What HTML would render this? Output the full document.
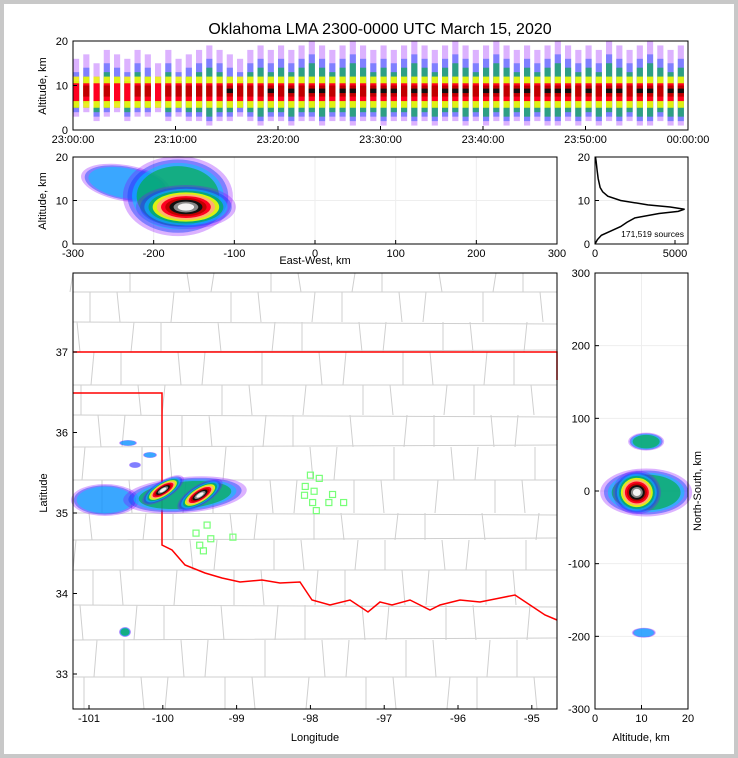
<!DOCTYPE html>
<html><head><meta charset="utf-8"><style>
body{margin:0;background:#c8c8c8}
#wrap{position:absolute;left:4px;top:4px;width:730px;height:750px;background:#fff}
svg{position:absolute;left:0;top:0}
text{font-family:"Liberation Sans",sans-serif;fill:#000}
</style></head><body>
<div id="wrap"></div>
<svg id="s" width="738" height="758">
<text x="380" y="34" font-size="16" text-anchor="middle">Oklahoma LMA 2300-0000 UTC March 15, 2020</text>
<g id="g"></g>
</svg>
<script>
// ---------- data ----------
const timeTicks=["23:00:00","23:10:00","23:20:00","23:30:00","23:40:00","23:50:00","00:00:00"];
const binTop=[14,15,13,16,15,14,16,15,13,16,14,15,16,17,16,15,14,16,17,16,17,16,17,18,17,16,17,18,17,16,17,16,17,18,17,16,17,18,17,16,17,18,17,16,17,16,17,18,17,16,17,16,18,17,16,17,18,17,16,17];
const binBot=[4,5,3,4,5,3,4,4,5,3,4,3,3,2,3,3,4,3,2,3,3,2,3,3,2,3,3,2,3,3,2,3,3,2,3,2,3,3,2,3,2,3,2,3,2,3,2,2,3,2,3,2,3,2,3,2,2,3,2,2];
const binCore=[1,2,1,2,1,1,2,2,1,2,2,2,2,2,2,3,2,2,2,3,2,3,2,3,3,2,3,3,2,3,3,3,2,3,3,2,3,3,3,2,3,3,2,3,3,2,3,3,3,2,3,2,3,3,2,3,3,2,3,3];
const histAlt=[0,1,2,3,4,5,6,7,7.5,8,8.5,9,10,11,12,13,15,17,19,20];
const histCnt=[0,150,400,1000,1600,2000,2500,4000,5200,5600,4700,3300,1600,800,480,320,200,130,70,30];
const ewTicks=[-300,-200,-100,0,100,200,300];
const lonTicks=[-101,-100,-99,-98,-97,-96,-95];
const latTicks=[33,34,35,36,37];
const nsTicks=[-300,-200,-100,0,100,200,300];
const altTicks=[0,10,20];
const stLon=[-98.0,-97.88,-98.07,-97.95,-98.08,-97.7,-97.75,-97.97,-97.55,-97.92,-99.55,-99.4,-99.35,-99.05,-99.5,-99.45];
const stLat=[35.47,35.43,35.33,35.27,35.22,35.23,35.13,35.13,35.13,35.03,34.75,34.85,34.68,34.7,34.6,34.53];
const total="171,519 sources";

// ---------- axes ----------
const tx=t=>73+t/60*615, ty=a=>130-a*4.45;
const ex=e=>315+e*484/600, ey=a=>244-a*4.35;
const hx=c=>595+c*0.016;
const mx=l=>73+(l+101.217)*73.8, my=l=>352+(37-l)*80.5;
const rx=a=>595+a*4.65, ry=n=>491-n*436/600;
const NS='http://www.w3.org/2000/svg', G=document.getElementById('g');
function el(tag,attrs,parent){const e=document.createElementNS(NS,tag);for(const k in attrs)e.setAttribute(k,attrs[k]);(parent||G).appendChild(e);return e;}
function txt(x,y,s,size,anchor,rot){const t=el('text',{x:x,y:y,'font-size':size||11,'text-anchor':anchor||'middle'});if(rot)t.setAttribute('transform',`rotate(${rot} ${x} ${y})`);t.textContent=s;return t;}
const C={pu:'#8a00ff',bl:'#1040ff',cy:'#00c8ff',gr:'#00b040',yl:'#ffff00',or:'#ffb070',rd:'#ff0020',dr:'#c00000',bk:'#101010',gy:'#888',wh:'#f4f4f4'};
const OP={pu:0.3,bl:0.45,cy:0.55,gr:0.65,yl:0.85};

// ---------- top time-height ----------
const gTop=el('g',{});


for(let i=0;i<binTop.length;i++){
 const x=tx(i),w=615/60*0.6;
 const layers=[[binBot[i]-1,binTop[i]+2,'pu'],[binBot[i],binTop[i]-1,'bl'],[binBot[i]+1,binTop[i]-3,'gr'],[5,12,'yl'],[6.5,10.5,'rd']];
 if(binCore[i]>=2)layers.push([7.5,10,'dr']);
 if(binCore[i]>=3)layers.push([8.3,9.3,'bk']);
 layers.forEach(L=>{const r=el('rect',{x:x,y:ty(L[1]),width:w,height:ty(L[0])-ty(L[1]),fill:C[L[2]],'fill-opacity':OP[L[2]]||1},gTop);
 });
}
el('rect',{x:73,y:41,width:615,height:89,fill:'none',stroke:'#000','stroke-width':1});
timeTicks.forEach((s,i)=>{const x=tx(i*10);el('line',{x1:x,x2:x,y1:130,y2:126,stroke:'#000'});txt(x,143,s,11);});
altTicks.forEach(a=>{el('line',{x1:73,x2:77,y1:ty(a),y2:ty(a),stroke:'#000'});txt(68,ty(a)+4,a,11,'end');});
txt(46,86,'Altitude, km',11,'middle',-90);

// ---------- blob helper ----------
const ring=['pu','bl','cy','gr','yl','or','rd','dr','bk','gy','wh'];
function blob(cx,cy,rxx,ryy,rot,levels,parent,name){
 for(let k=0;k<levels;k++){const f=1-k/11*0.92;
  const e=el('ellipse',{cx:cx,cy:cy,rx:rxx*f,ry:ryy*f,fill:C[ring[k]],'fill-opacity':OP[ring[k]]||1,transform:`rotate(${rot} ${cx} ${cy})`},parent);
  }
}

// ---------- E-W vs altitude ----------
const gEw=el('g',{});
[-200,-100,0,100,200].forEach(e=>el('line',{x1:ex(e),x2:ex(e),y1:157,y2:244,stroke:'#eee'},gEw));
el('line',{x1:73,x2:557,y1:ey(10),y2:ey(10),stroke:'#eee'},gEw);
blob(ex(-235),ey(14),45,18,10,3,gEw,'ew-density-outer');
blob(ex(-170),ey(11),55,40,0,4,gEw,'ew-density-mid');
blob(ex(-160),ey(8.5),50,22,0,11,gEw,'ew-density-core');
el('rect',{x:73,y:157,width:484,height:87,fill:'none',stroke:'#000'});
ewTicks.forEach(e=>{el('line',{x1:ex(e),x2:ex(e),y1:244,y2:240,stroke:'#000'});txt(ex(e),257,e,11);});
altTicks.forEach(a=>{el('line',{x1:73,x2:77,y1:ey(a),y2:ey(a),stroke:'#000'});txt(68,ey(a)+4,a,11,'end');});
txt(46,201,'Altitude, km',11,'middle',-90);
txt(315,264,'East-West, km',11);

// ---------- histogram ----------
let d='';histAlt.forEach((a,i)=>{d+=(i?'L':'M')+hx(histCnt[i])+' '+ey(histAlt[i]);});
el('line',{x1:595,x2:688,y1:ey(10),y2:ey(10),stroke:'#eee'});
const hp=el('path',{d:d,fill:'none',stroke:'#000','stroke-width':1.5});

el('rect',{x:595,y:157,width:93,height:87,fill:'none',stroke:'#000'});
[0,5000].forEach(c=>{el('line',{x1:hx(c),x2:hx(c),y1:244,y2:240,stroke:'#000'});txt(hx(c),257,c,11);});
altTicks.forEach(a=>{el('line',{x1:595,x2:599,y1:ey(a),y2:ey(a),stroke:'#000'});txt(590,ey(a)+4,a,11,'end');});
txt(684,237,total,8.5,'end');

// ---------- map ----------
const gMap=el('g',{});

const cl='#cfcfcf';
let cd='';
const rows=[273,292,322,352,385,415,447,480,513,540,570,605,640,677,709];
rows.forEach((y,i)=>{if(i>0&&i<rows.length-1)cd+=`M73 ${y}L557 ${y+(i%3-1)*2}`;});
for(let r=0;r<rows.length-1;r++){
 for(let j=0;j<11;j++){const x=73+j*44+((r*17+j*13)%30);if(x>555)continue;cd+=`M${x} ${rows[r]}L${x+((r+j)%3-1)*3} ${rows[r+1]}`;}
}
el('path',{d:cd,stroke:cl,'stroke-width':1,fill:'none'},gMap);
const ok='M73 352L557 352L557 380M73 393L162 393L162 545L172 550L185 565L205 573L222 578L240 582L262 580L280 583L300 582L312 600L330 605L350 600L368 612L380 602L392 605L410 600L430 610L440 605L460 600L480 602L500 598L515 595L530 605L545 615L557 620';
el('path',{d:ok,stroke:'#f00','stroke-width':1.5,fill:'none'},gMap);
blob(105,500,34,16,0,3,gMap,'map-scatter-west');
blob(128,443,9,3,0,3,gMap,'map-cell-nw1');
blob(150,455,7,3,0,3,gMap,'map-cell-nw2');
blob(135,465,6,3,0,2,gMap,'map-cell-nw3');
blob(125,632,6,5,0,4,gMap,'map-cell-sw');
blob(185,495,62,18,-5,4,gMap,'map-storm-envelope');
blob(163,490,24,9,-32,11,gMap,'map-storm-core-west');
blob(200,495,26,10,-32,11,gMap,'map-storm-core-east');
stLon.forEach((l,i)=>{const r=el('rect',{x:mx(l)-3,y:my(stLat[i])-3,width:6,height:6,fill:'none',stroke:'#7f7','stroke-width':1.2},gMap);
 });
el('rect',{x:73,y:273,width:484,height:436,fill:'none',stroke:'#000'});
lonTicks.forEach(l=>{el('line',{x1:mx(l),x2:mx(l),y1:709,y2:705,stroke:'#000'});txt(mx(l),722,l,11);});
latTicks.forEach(l=>{el('line',{x1:73,x2:77,y1:my(l),y2:my(l),stroke:'#000'});txt(68,my(l)+4,l,11,'end');});
txt(47,493,'Latitude',11,'middle',-90);
txt(315,741,'Longitude',11);

// ---------- altitude vs N-S ----------
const gR=el('g',{});
[-200,-100,0,100,200].forEach(n=>el('line',{x1:595,x2:688,y1:ry(n),y2:ry(n),stroke:'#eee'},gR));
el('line',{x1:rx(10),x2:rx(10),y1:273,y2:709,stroke:'#eee'},gR);
blob(rx(11),ry(68),18,9,0,4,gR,'ns-cell-north');
blob(rx(10.5),ry(-195),12,5,0,3,gR,'ns-cell-south');
blob(rx(11),ry(-2),46,24,0,4,gR,'ns-density-outer');
blob(rx(9),ry(-2),24,22,0,11,gR,'ns-density-core');
el('rect',{x:595,y:273,width:93,height:436,fill:'none',stroke:'#000'});
nsTicks.forEach(n=>{el('line',{x1:595,x2:599,y1:ry(n),y2:ry(n),stroke:'#000'});txt(590,ry(n)+4,n,11,'end');});
[0,10,20].forEach(a=>{el('line',{x1:rx(a),x2:rx(a),y1:709,y2:705,stroke:'#000'});txt(rx(a),722,a,11);});
txt(641,741,'Altitude, km',11);
txt(701,491,'North-South, km',11,'middle',-90);
</script>
</body></html>
